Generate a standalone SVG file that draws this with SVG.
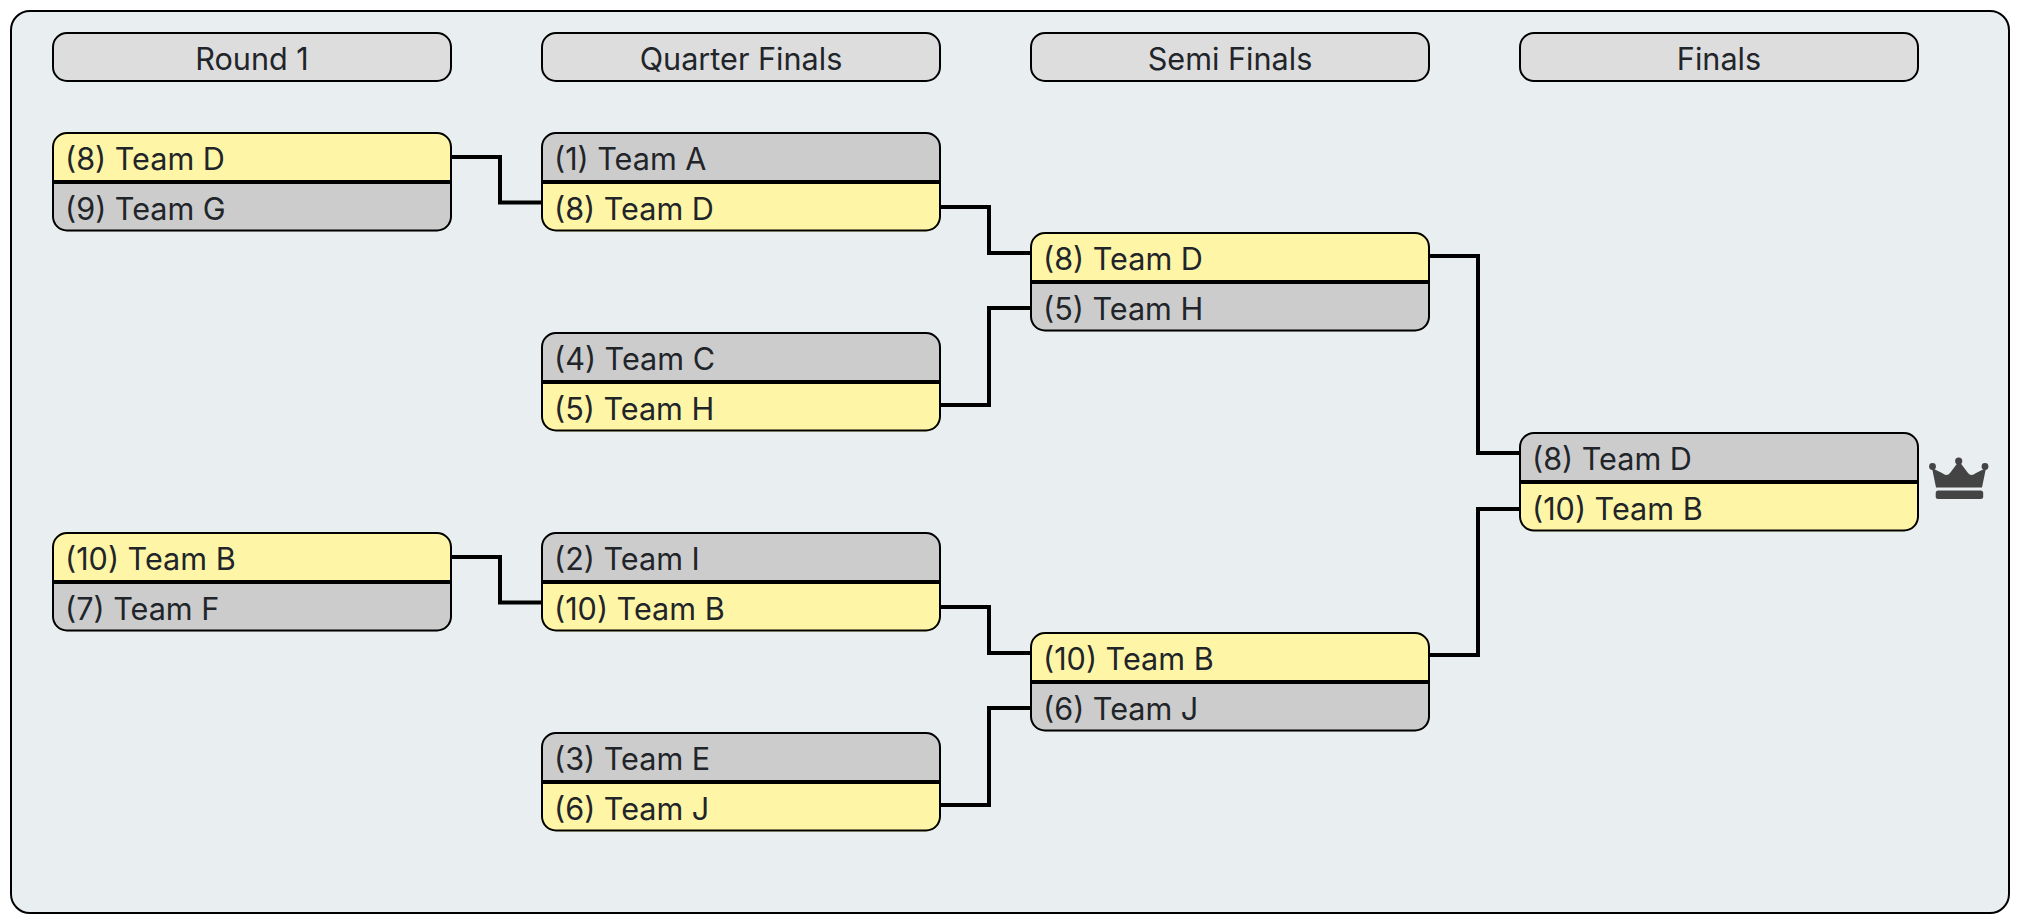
<svg xmlns="http://www.w3.org/2000/svg" width="2021" height="923" viewBox="0 0 2021 923">
<style>
text{font-family:Inter,"Liberation Sans",sans-serif;font-size:30.6px;fill:#212529}
.h{text-anchor:middle}
.hd{fill:#ddd;stroke:#000;stroke-width:2}
.o{fill:none;stroke:#000;stroke-width:2}
.w{fill:#fff5a6}.l{fill:#ccc}
.d{stroke:#000;stroke-width:4}
.c{fill:none;stroke:#000;stroke-width:4}
</style>
<defs>
<clipPath id="b"><rect width="400" height="99.5" rx="15"/></clipPath>
<g id="frame"><rect class="o" x="1" y="1" width="398" height="97.5" rx="14"/><line class="d" x1="1" y1="50" x2="399" y2="50"/></g>
</defs>
<rect width="2021" height="923" fill="#fff"/>
<rect x="11" y="11" width="1998" height="902" rx="19" fill="#e9eff1" stroke="#000" stroke-width="2"/>
<g id="headers">
<g id="h1"><rect class="hd" x="53" y="33" width="398" height="48" rx="14"/><text class="h" x="252" y="69.500">Round 1</text></g>
<g id="h2"><rect class="hd" x="542" y="33" width="398" height="48" rx="14"/><text class="h" x="741" y="69.500">Quarter Finals</text></g>
<g id="h3"><rect class="hd" x="1031" y="33" width="398" height="48" rx="14"/><text class="h" x="1230" y="69.500">Semi Finals</text></g>
<g id="h4"><rect class="hd" x="1520" y="33" width="398" height="48" rx="14"/><text class="h" x="1719" y="69.500">Finals</text></g>
</g>
<g id="connectors">
<path class="c" d="M451 157H500V202.500H541"/>
<path class="c" d="M451 557H500V602.500H541"/>
<path class="c" d="M940 207H989V253H1031"/>
<path class="c" d="M940 405H989V308H1031"/>
<path class="c" d="M940 607H989V653H1031"/>
<path class="c" d="M940 805H989V708H1031"/>
<path class="c" d="M1429 256H1478V453H1520"/>
<path class="c" d="M1429 655H1478V509H1520"/>
</g>
<g id="m1" transform="translate(52 132)"><g clip-path="url(#b)"><rect class="w" width="400" height="50"/><rect class="l" y="50" width="400" height="50"/></g><use href="#frame"/><text x="13" y="38">(8)<tspan dx="8.500">Team D</tspan></text><text x="13" y="88">(9)<tspan dx="8.500">Team G</tspan></text></g>
<g id="m2" transform="translate(52 532)"><g clip-path="url(#b)"><rect class="w" width="400" height="50"/><rect class="l" y="50" width="400" height="50"/></g><use href="#frame"/><text x="13" y="38">(10)<tspan dx="8.500">Team B</tspan></text><text x="13" y="88">(7)<tspan dx="8.500">Team F</tspan></text></g>
<g id="m3" transform="translate(541 132)"><g clip-path="url(#b)"><rect class="l" width="400" height="50"/><rect class="w" y="50" width="400" height="50"/></g><use href="#frame"/><text x="13" y="38">(1)<tspan dx="8.500">Team A</tspan></text><text x="13" y="88">(8)<tspan dx="8.500">Team D</tspan></text></g>
<g id="m4" transform="translate(541 332)"><g clip-path="url(#b)"><rect class="l" width="400" height="50"/><rect class="w" y="50" width="400" height="50"/></g><use href="#frame"/><text x="13" y="38">(4)<tspan dx="8.500">Team C</tspan></text><text x="13" y="88">(5)<tspan dx="8.500">Team H</tspan></text></g>
<g id="m5" transform="translate(541 532)"><g clip-path="url(#b)"><rect class="l" width="400" height="50"/><rect class="w" y="50" width="400" height="50"/></g><use href="#frame"/><text x="13" y="38">(2)<tspan dx="8.500">Team I</tspan></text><text x="13" y="88">(10)<tspan dx="8.500">Team B</tspan></text></g>
<g id="m6" transform="translate(541 732)"><g clip-path="url(#b)"><rect class="l" width="400" height="50"/><rect class="w" y="50" width="400" height="50"/></g><use href="#frame"/><text x="13" y="38">(3)<tspan dx="8.500">Team E</tspan></text><text x="13" y="88">(6)<tspan dx="8.500">Team J</tspan></text></g>
<g id="m7" transform="translate(1030 232)"><g clip-path="url(#b)"><rect class="w" width="400" height="50"/><rect class="l" y="50" width="400" height="50"/></g><use href="#frame"/><text x="13" y="38">(8)<tspan dx="8.500">Team D</tspan></text><text x="13" y="88">(5)<tspan dx="8.500">Team H</tspan></text></g>
<g id="m8" transform="translate(1030 632)"><g clip-path="url(#b)"><rect class="w" width="400" height="50"/><rect class="l" y="50" width="400" height="50"/></g><use href="#frame"/><text x="13" y="38">(10)<tspan dx="8.500">Team B</tspan></text><text x="13" y="88">(6)<tspan dx="8.500">Team J</tspan></text></g>
<g id="m9" transform="translate(1519 432)"><g clip-path="url(#b)"><rect class="l" width="400" height="50"/><rect class="w" y="50" width="400" height="50"/></g><use href="#frame"/><text x="13" y="38">(8)<tspan dx="8.500">Team D</tspan></text><text x="13" y="88">(10)<tspan dx="8.500">Team B</tspan></text></g>
<g id="crown" fill="#444">
<path d="M1932 468L1936 487.500H1982L1986 468L1976 473Q1971 477 1968 473L1959 461L1950 473Q1947 477 1942 473Z"/>
<circle cx="1932.500" cy="466.500" r="3.400"/><circle cx="1958.700" cy="461" r="3.600"/><circle cx="1985" cy="466.500" r="3.400"/>
<rect x="1935.700" y="490.500" width="47.500" height="8.500" rx="2.500"/>
</g>
</svg>
